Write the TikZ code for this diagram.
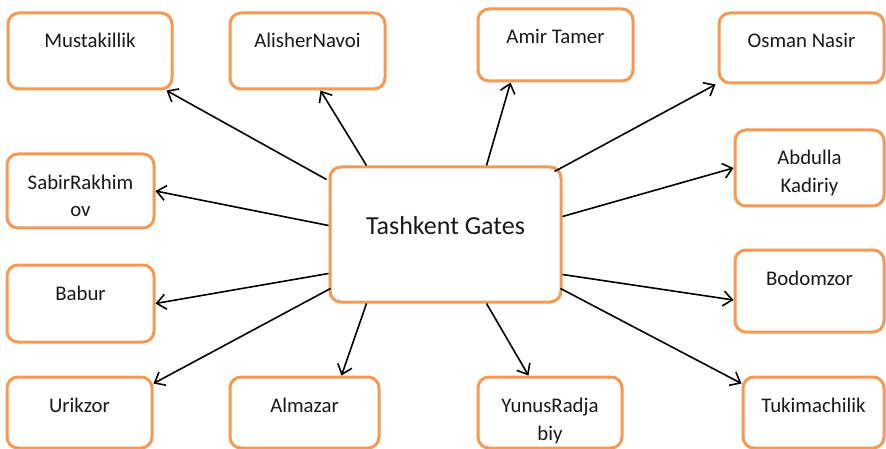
\documentclass[tikz,border=0pt]{standalone}
\usepackage{fontspec}
\setmainfont{Carlito}
\usetikzlibrary{arrows.meta}
\definecolor{gateorange}{HTML}{F39A55}
\newcommand{\gbox}[3]{\parbox[c][#2pt][t]{#1pt}{\centering\vspace*{19pt}\rule{0pt}{16pt}#3}}
\begin{document}
\begin{tikzpicture}[x=1pt,y=-1pt,
  gatebox/.style={draw=gateorange,line width=3pt,rounded corners=11pt,fill=white,inner sep=0pt,
    font=\fontsize{20.8}{28}\selectfont,text=black!90},
  conn/.style={draw=black,line width=1.6pt,-{Straight Barb[length=9pt,width=15pt,line width=1.6pt]}}]
\useasboundingbox (0,0) rectangle (886,449);
\fill[white] (0,0) rectangle (886,449);
\node[gatebox,minimum width=231pt,minimum height=135pt,font=\fontsize{26}{30}\selectfont] (c) at (445.5,234.5)
  {\parbox[c][135pt][t]{231pt}{\centering\vspace*{47pt}\rule{0pt}{20pt}Tashkent Gates}};
\node[gatebox,minimum width=164pt,minimum height=76pt] (must) at (90,51) {\gbox{164}{76}{Mustakillik}};
\node[gatebox,minimum width=155pt,minimum height=76pt] (alis) at (307.5,51) {\gbox{155}{76}{AlisherNavoi}};
\node[gatebox,minimum width=155pt,minimum height=72pt] (amir) at (555.5,45) {\gbox{155}{72}{Amir Tamer}};
\node[gatebox,minimum width=165pt,minimum height=70pt] (osman) at (801.5,48) {\gbox{165}{70}{Osman Nasir}};
\node[gatebox,minimum width=147pt,minimum height=74pt] (sabir) at (80.5,191) {\gbox{147}{74}{SabirRakhim\\ov}};
\node[gatebox,minimum width=149pt,minimum height=76pt] (abd) at (809.5,168) {\gbox{149}{76}{Abdulla\\Kadiriy}};
\node[gatebox,minimum width=147pt,minimum height=77pt] (babur) at (80.5,303.5) {\gbox{147}{77}{\vspace*{1pt}Babur}};
\node[gatebox,minimum width=149pt,minimum height=82pt] (bodom) at (809.5,291) {\gbox{149}{82}{\vspace*{3pt}Bodomzor}};
\node[gatebox,minimum width=145pt,minimum height=71pt] (urik) at (79.5,412.5) {\gbox{145}{71}{Urikzor}};
\node[gatebox,minimum width=149pt,minimum height=71pt] (alm) at (304.5,412.5) {\gbox{149}{71}{Almazar}};
\node[gatebox,minimum width=144pt,minimum height=71pt] (yun) at (550,412.5) {\gbox{144}{71}{YunusRadja\\biy}};
\node[gatebox,minimum width=141pt,minimum height=71pt] (tuki) at (813.5,412.5) {\gbox{141}{71}{Tukimachilik}};
\draw[conn] ([xshift=-2pt,yshift=-14pt]c.north west) -- ([xshift=-7pt]must.south east);
\draw[conn] ([xshift=38pt]c.north west) -- ([xshift=92pt]alis.south west);
\draw[conn] ([xshift=158pt]c.north west) -- ([xshift=34pt]amir.south west);
\draw[conn] ([xshift=-8pt,yshift=-6pt]c.north east) -- ([xshift=-2pt]osman.south west);
\draw[conn] ([yshift=-60pt]c.north west) -- (sabir.east);
\draw[conn] ([yshift=-51pt]c.north east) -- (abd.west);
\draw[conn] ([yshift=-108pt]c.north west) -- (babur.east);
\draw[conn] ([yshift=-109pt]c.north east) -- ([yshift=-9pt]bodom.west);
\draw[conn] ([xshift=2pt,yshift=-123pt]c.north west) -- ([yshift=-8pt]urik.north east);
\draw[conn] ([xshift=38pt]c.south west) -- ([xshift=113pt]alm.north west);
\draw[conn] ([xshift=158pt]c.south west) -- ([xshift=52pt]yun.north west);
\draw[conn] ([xshift=-2pt,yshift=-123pt]c.north east) -- ([yshift=-8pt]tuki.north west);
\end{tikzpicture}
\end{document}
